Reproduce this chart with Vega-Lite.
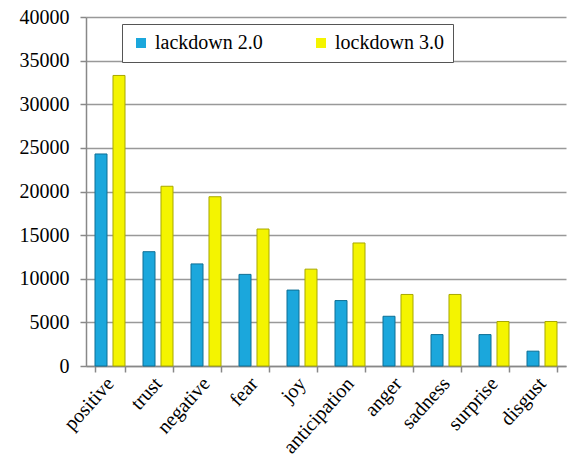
{
  "$schema": "https://vega.github.io/schema/vega-lite/v6.json",
  "width": 480,
  "height": 349,
  "autosize": {"type": "none"},
  "padding": {"left": 86, "top": 17, "right": 2, "bottom": 99},
  "background": "white",
  "config": {
    "font": "Liberation Serif",
    "view": {"stroke": null}
  },
  "data": {
    "values": [
      {"emotion": "positive", "series": "lackdown 2.0", "count": 24300},
      {"emotion": "positive", "series": "lockdown 3.0", "count": 33300},
      {"emotion": "trust", "series": "lackdown 2.0", "count": 13100},
      {"emotion": "trust", "series": "lockdown 3.0", "count": 20600},
      {"emotion": "negative", "series": "lackdown 2.0", "count": 11700},
      {"emotion": "negative", "series": "lockdown 3.0", "count": 19400},
      {"emotion": "fear", "series": "lackdown 2.0", "count": 10500},
      {"emotion": "fear", "series": "lockdown 3.0", "count": 15700},
      {"emotion": "joy", "series": "lackdown 2.0", "count": 8700},
      {"emotion": "joy", "series": "lockdown 3.0", "count": 11100},
      {"emotion": "anticipation", "series": "lackdown 2.0", "count": 7500},
      {"emotion": "anticipation", "series": "lockdown 3.0", "count": 14100},
      {"emotion": "anger", "series": "lackdown 2.0", "count": 5700},
      {"emotion": "anger", "series": "lockdown 3.0", "count": 8200},
      {"emotion": "sadness", "series": "lackdown 2.0", "count": 3600},
      {"emotion": "sadness", "series": "lockdown 3.0", "count": 8200},
      {"emotion": "surprise", "series": "lackdown 2.0", "count": 3600},
      {"emotion": "surprise", "series": "lockdown 3.0", "count": 5100},
      {"emotion": "disgust", "series": "lackdown 2.0", "count": 1700},
      {"emotion": "disgust", "series": "lockdown 3.0", "count": 5100}
    ]
  },
  "mark": {"type": "bar", "strokeWidth": 1},
  "encoding": {
    "x": {
      "field": "emotion",
      "type": "nominal",
      "sort": null,
      "scale": {"paddingInner": 0.375, "paddingOuter": 0.1875},
      "axis": {
        "title": null,
        "labelAngle": -48,
        "labelAlign": "right",
        "labelBaseline": "middle",
        "labelFont": "Liberation Serif",
        "labelFontSize": 20,
        "labelColor": "black",
        "labelPadding": 8,
        "tickBand": "extent",
        "tickSize": 6,
        "tickColor": "#888888",
        "tickWidth": 1.5,
        "domainColor": "#888888",
        "domainWidth": 1.5,
        "grid": false
      }
    },
    "xOffset": {
      "field": "series",
      "type": "nominal",
      "scale": {"paddingInner": 0.333, "paddingOuter": 0}
    },
    "y": {
      "field": "count",
      "type": "quantitative",
      "scale": {"domain": [0, 40000], "nice": false},
      "axis": {
        "title": null,
        "values": [0, 5000, 10000, 15000, 20000, 25000, 30000, 35000, 40000],
        "format": "d",
        "labelFont": "Liberation Serif",
        "labelFontSize": 20,
        "labelColor": "black",
        "labelPadding": 11,
        "tickSize": 6,
        "tickColor": "#888888",
        "tickWidth": 1.5,
        "domainColor": "#888888",
        "domainWidth": 1.5,
        "gridColor": "#999999",
        "gridWidth": 1.5
      }
    },
    "color": {
      "field": "series",
      "type": "nominal",
      "scale": {"domain": ["lackdown 2.0", "lockdown 3.0"], "range": ["#1ba7dc", "#f4f400"]},
      "legend": {
        "title": null,
        "orient": "none",
        "legendX": 36,
        "legendY": 7,
        "direction": "horizontal",
        "symbolType": "square",
        "symbolSize": 100,
        "symbolStrokeWidth": 0,
        "labelFont": "Liberation Serif",
        "labelFontSize": 20,
        "labelColor": "black",
        "labelOffset": 4,
        "columnPadding": 48,
        "padding": 9,
        "strokeColor": "#555555",
        "fillColor": "white",
        "labelLimit": 200
      }
    },
    "stroke": {
      "field": "series",
      "type": "nominal",
      "scale": {"domain": ["lackdown 2.0", "lockdown 3.0"], "range": ["#0e6f95", "#a8a800"]},
      "legend": null
    }
  }
}
